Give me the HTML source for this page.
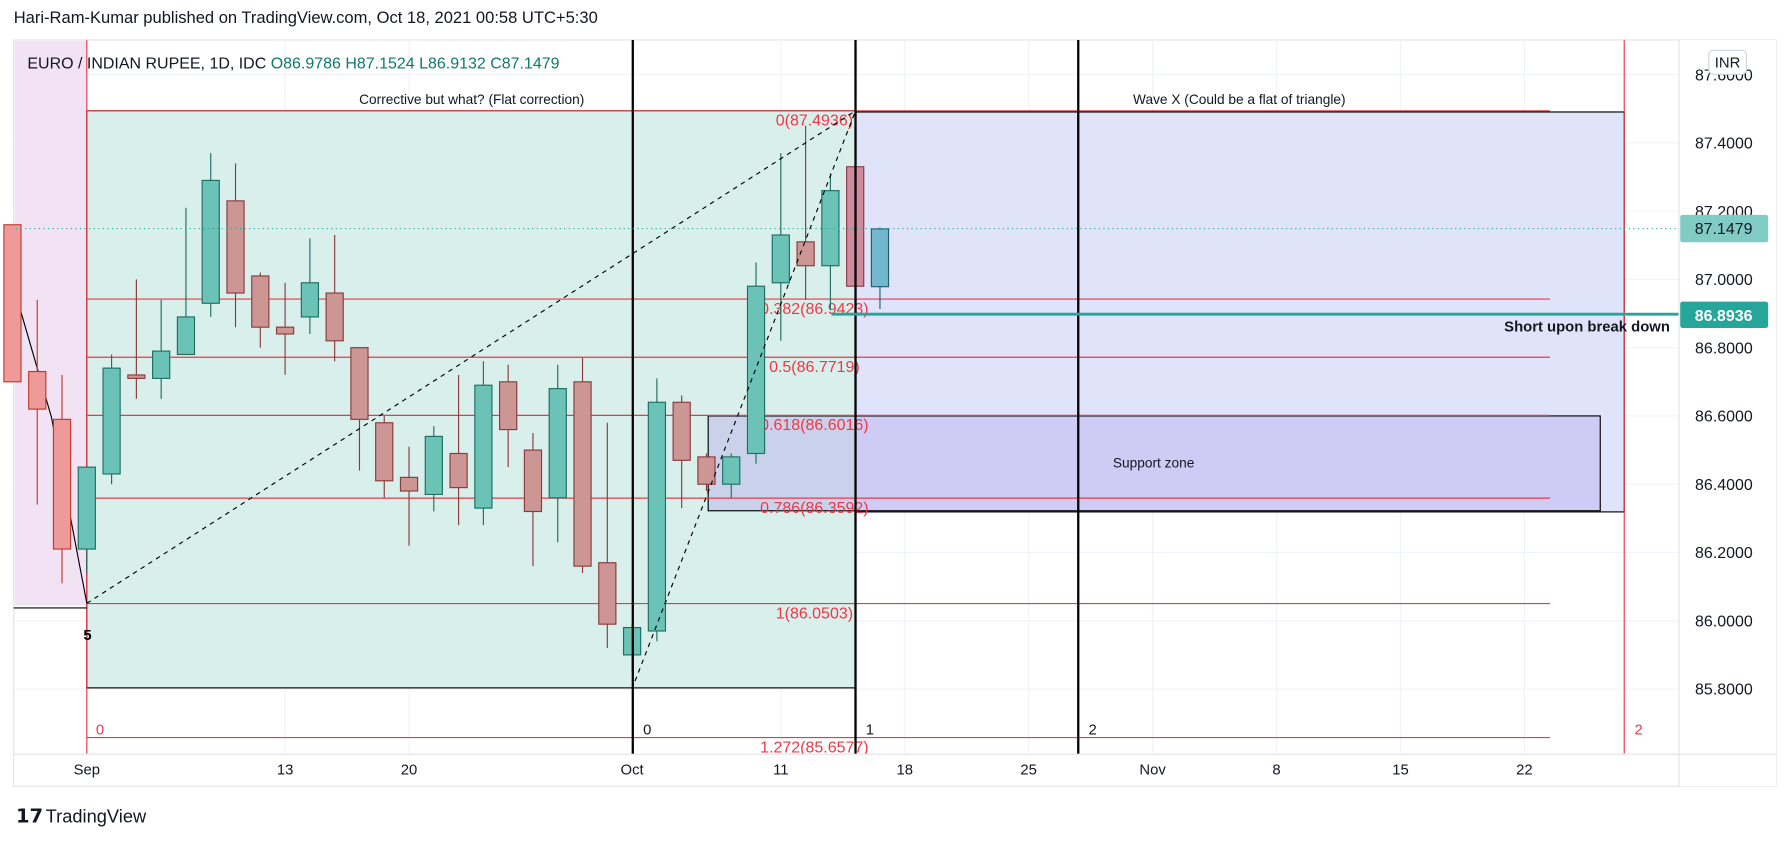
<!DOCTYPE html>
<html><head><meta charset="utf-8"><style>
html,body{margin:0;padding:0;background:#fff;width:1791px;height:841px;overflow:hidden}
svg{display:block}
text{font-family:"Liberation Sans",sans-serif}
</style></head><body>
<svg id="chart" width="1791" height="841" viewBox="0 0 1568 736" preserveAspectRatio="none" xmlns="http://www.w3.org/2000/svg">
<text x="12" y="20" font-size="14.5" fill="#131722">Hari-Ram-Kumar published on TradingView.com, Oct 18, 2021 00:58 UTC+5:30</text>
<rect x="12" y="35" width="1543" height="653" fill="#fff" stroke="#e0e3eb"/>
<g id="grid"></g>
<rect x="13" y="36" width="63" height="494" fill="#f1e2f4"/>
<rect x="76" y="97" width="673" height="505" fill="#d9efec" stroke="#000" stroke-width="1"/>
<rect x="749" y="98" width="673" height="350" fill="#dfe4fb" stroke="#000" stroke-width="1"/>
<rect x="620" y="364" width="781" height="83" fill="rgba(180,168,235,0.4)" stroke="#000" stroke-width="1"/>
<text x="1010" y="409" font-size="12" text-anchor="middle" fill="#131722">Support zone</text>
<g id="fib"></g>
<line x1="76" y1="35" x2="76" y2="660" stroke="#f23645" stroke-width="1"/>
<line x1="1422" y1="35" x2="1422" y2="660" stroke="#f23645" stroke-width="1"/>
<line x1="12" y1="532" x2="76" y2="532" stroke="#000"/>
<polyline points="14,258 45,365 76,528" fill="none" stroke="#000"/>
<g id="candles"></g>
<line x1="76" y1="528" x2="749" y2="97" stroke="#000" stroke-dasharray="4,4"/>
<line x1="556" y1="596" x2="749" y2="97" stroke="#000" stroke-dasharray="4,4"/>
<line x1="554" y1="35" x2="554" y2="660" stroke="#000" stroke-width="2"/>
<line x1="749" y1="35" x2="749" y2="660" stroke="#000" stroke-width="2"/>
<line x1="944" y1="35" x2="944" y2="660" stroke="#000" stroke-width="2"/>
<text x="563" y="643" font-size="13" fill="#131722">0</text>
<text x="758" y="643" font-size="13" fill="#131722">1</text>
<text x="953" y="643" font-size="13" fill="#131722">2</text>
<text x="84" y="643" font-size="13" fill="#f23645">0</text>
<text x="1431" y="643" font-size="13" fill="#f23645">2</text>
<text x="73" y="560" font-size="13" font-weight="bold" fill="#000">5</text>
<line x1="14" y1="200" x2="1470" y2="200" stroke="#26a69a" stroke-dasharray="1,3"/>
<line x1="728" y1="275" x2="1470" y2="275" stroke="#26a69a" stroke-width="2.5"/>
<text x="1462" y="290" font-size="13" font-weight="bold" text-anchor="end" fill="#131722">Short upon break down</text>
<text x="413" y="91" font-size="12" text-anchor="middle" fill="#131722">Corrective but what? (Flat correction)</text>
<text x="1085" y="91" font-size="12" text-anchor="middle" fill="#131722">Wave X (Could be a flat of triangle)</text>
<text x="24" y="60" font-size="14" fill="#131722">EURO / INDIAN RUPEE, 1D, IDC <tspan fill="#0d7a6c"> O86.9786  H87.1524  L86.9132  C87.1479</tspan></text>
<rect x="1470" y="35" width="85" height="653" fill="#fff"/>
<rect x="12.5" y="660" width="1457" height="27.5" fill="#fff"/>
<line x1="1470" y1="35" x2="1470" y2="688" stroke="#e0e3eb"/>
<line x1="12" y1="660" x2="1555" y2="660" stroke="#e0e3eb"/>
<g id="yaxis"></g>
<g id="xaxis"></g>
<rect x="1496" y="44" width="33" height="21" rx="4" fill="#fff" stroke="#d1d4dc"/>
<text x="1512.5" y="59" font-size="13" text-anchor="middle" fill="#131722">INR</text>
<rect x="1471" y="188" width="77" height="24" rx="2" fill="#80cbc4"/>
<text x="1509" y="205" font-size="14" text-anchor="middle" fill="#131722">87.1479</text>
<rect x="1471" y="264" width="77" height="23" rx="2" fill="#26a69a"/>
<text x="1509" y="281" font-size="14" font-weight="bold" text-anchor="middle" fill="#fff">86.8936</text>
<g>
<text x="14" y="720" font-size="17" font-weight="bold" fill="#131722">𝟭𝟳</text>
<text x="40" y="720" font-size="16" fill="#131722">TradingView</text>
</g>
</svg>
<script>
const opens  =[87.16,86.73,86.59,86.21,86.43,86.72,86.71,86.78,86.93,87.23,87.01,86.86,86.89,86.96,86.80,86.58,86.42,86.37,86.49,86.33,86.70,86.50,86.36,86.70,86.17,85.90,85.97,86.64,86.48,86.40,86.49,86.99,87.11,87.04,87.33,86.9786];
const highs  =[87.16,86.94,86.72,86.45,86.78,87.00,86.94,87.21,87.37,87.34,87.02,86.99,87.12,87.13,86.80,86.60,86.51,86.57,86.72,86.76,86.75,86.55,86.75,86.77,86.58,85.99,86.71,86.66,86.49,86.49,87.05,87.37,87.45,87.31,87.33,87.1524];
const lows   =[86.70,86.34,86.11,86.14,86.40,86.65,86.65,86.78,86.89,86.86,86.80,86.72,86.84,86.76,86.44,86.36,86.22,86.32,86.28,86.28,86.45,86.16,86.23,86.14,85.92,85.85,85.94,86.33,86.38,86.36,86.46,86.82,86.94,86.91,86.98,86.9132];
const closes =[86.70,86.62,86.21,86.45,86.74,86.71,86.79,86.89,87.29,86.96,86.86,86.84,86.99,86.82,86.59,86.41,86.38,86.54,86.39,86.69,86.56,86.32,86.68,86.16,85.99,85.98,86.64,86.47,86.40,86.48,86.98,87.13,87.04,87.26,86.98,87.1479];
const firstIndex=-3;
const priceTicks=[85.8,86.0,86.2,86.4,86.6,86.8,87.0,87.2,87.4,87.6];
const timeLabels=["Sep","13","20","Oct","11","18","25","Nov","8","15","22"];
const timeIdx=[0,8,13,22,28,33,38,43,48,53,58];
const fibLevels=["0","0.382","0.5","0.618","0.786","1","1.272"];
const fibPrices=[87.4936,86.9423,86.7719,86.6016,86.3592,86.0503,85.6577];
const NS="http://www.w3.org/2000/svg";
const xOf=i=>76+i*21.7;
const yOf=p=>125+(87.4-p)*298.75;
function mk(tag,attrs,parent,txt){const e=document.createElementNS(NS,tag);for(const k in attrs)e.setAttribute(k,attrs[k]);if(txt!==undefined)e.textContent=txt;parent.appendChild(e);return e;}
const grid=document.getElementById('grid'),yaxis=document.getElementById('yaxis'),xaxis=document.getElementById('xaxis');
priceTicks.forEach(p=>{const y=yOf(p);
 const l=mk('line',{x1:12,x2:1470,y1:y,y2:y,stroke:'#f0f3fa'},grid);
 
 
 const t=mk('text',{x:1484,y:y+5,'font-size':14,fill:'#131722'},yaxis,p.toFixed(4));
 
 
});
timeLabels.forEach((s,k)=>{const x=xOf(timeIdx[k]);
 const l=mk('line',{x1:x,x2:x,y1:35,y2:660,stroke:'#f0f3fa'},grid);
 
 
 const t=mk('text',{x:x,y:678,'font-size':13,'text-anchor':'middle',fill:'#131722'},xaxis,s);
 
 
});
const fib=document.getElementById('fib');
fibLevels.forEach((f,k)=>{const p=fibPrices[k];const y=yOf(p);
 const l=mk('line',{x1:76,x2:1357,y1:y,y2:y,stroke:'#f23645','stroke-width':1},fib);
 
 
 const t=mk('text',{x:713,y:y+13,'font-size':14,'text-anchor':'middle',fill:'#f23645'},fib,f+'('+p.toFixed(4)+')');
 
 
});
const cg=document.getElementById('candles');
opens.forEach((o,k)=>{const i=k+firstIndex,x=xOf(i),c=closes[k],up=c>=o;
 let fill,stroke;
 if(i<0){fill=up?'#7fd1c5':'#ef9a9a';stroke=up?'#1e6e62':'#c0392b';}
 else if(i>=31){fill=up?'#72b8cc':'#d08b9e';stroke=up?'#1e5e70':'#8b3a4a';}
 else{fill=up?'#6bc3b7':'#cc9694';stroke=up?'#1e6e62':'#8b3a3a';}
 const w=mk('line',{x1:x,x2:x,y1:yOf(highs[k]),y2:yOf(lows[k]),stroke:stroke,'stroke-width':1},cg);
 
 
 const top=yOf(Math.max(o,c)),bot=yOf(Math.min(o,c));
 const b=mk('rect',{x:x-7.5,y:top,width:15,height:Math.max(1.5,bot-top),fill:fill,stroke:stroke,'stroke-width':1},cg);
 
 
});
</script>
</body></html>
